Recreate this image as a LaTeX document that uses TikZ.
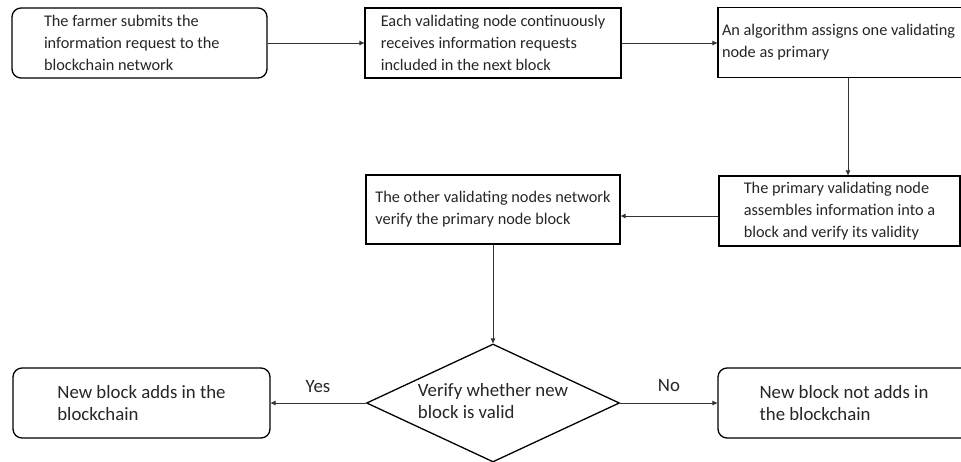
\documentclass[tikz,border=0pt]{standalone}
\usepackage{fontspec}
\setmainfont{Carlito}
\usetikzlibrary{shapes.geometric,arrows.meta}
\definecolor{txt}{HTML}{262626}
\begin{document}
\begin{tikzpicture}[x=1pt,y=-1pt,
  every node/.style={text=txt,font=\fontsize{16.3}{22}\selectfont},
  big/.style={font=\fontsize{18.8}{22}\selectfont},
  boxbase/.style={draw=black,line width=1.3pt,fill=white,align=left,inner xsep=2pt,inner ysep=2pt},
  rbox/.style={boxbase,rounded corners=9pt},
  sbox/.style={boxbase},
  dec/.style={draw=black,line width=1.3pt,shape=diamond,aspect=2.14,inner sep=0pt,align=left,minimum width=253pt,minimum height=118pt},
  conn/.style={draw=black!80,line width=0.9pt,-{Triangle[length=5pt,width=4.5pt]}},
  lbl/.style={inner sep=0pt}]
\clip (0,0) rectangle (961,461);
\fill[white] (0,0) rectangle (961,461);

\node[rbox,minimum width=255pt,minimum height=70pt,text width=191pt,inner xsep=32pt,align=flush left] (b1) at (139.5,43)
  {The farmer submits the\\information request to the\\blockchain network};
\node[sbox,minimum width=256pt,minimum height=70pt] (b2) at (493,43)
  {Each validating node continuously\\receives information requests\\included in the next block};
\node[sbox,minimum width=278pt,minimum height=70pt,text width=270pt,inner xsep=4pt,align=flush left] (b3) at (857,42.5)
  {An algorithm assigns one validating\\node as primary};
\node[sbox,minimum width=241pt,minimum height=70pt] (b4) at (839.5,211)
  {The primary validating node\\assembles information into a\\block and verify its validity};
\node[sbox,minimum width=254pt,minimum height=69pt] (b5) at (493,209.5)
  {The other validating nodes network\\verify the primary node block};
\node[dec,big] (d) at (493,403) {\raisebox{-3pt}{\begin{tabular}{@{}l@{}}Verify whether new\\block is valid\end{tabular}}};
\node[rbox,big,minimum width=257pt,minimum height=70pt] (b6) at (141.5,403)
  {New block adds in the\\blockchain};
\node[rbox,big,minimum width=252pt,minimum height=70pt] (b7) at (844,403)
  {New block not adds in\\the blockchain};

\draw[conn] (b1.east) -- (b2.west);
\draw[conn] (b2.east) -- (b2.east -| b3.west);
\draw[conn] (b3.south -| 848,0) -- (b4.north -| 848,0);
\draw[conn] (b4.west |- {(0,216)}) -- (b5.east |- {(0,216)});
\draw[conn] (b5.south) -- (d.north);
\draw[conn] (d.west) -- (b6.east);
\draw[conn] (d.east) -- (b7.west);

\node[lbl,big] (yes) at (318,387) {Yes};
\node[lbl,big] (no) at (669,386) {No};
\end{tikzpicture}
\end{document}
